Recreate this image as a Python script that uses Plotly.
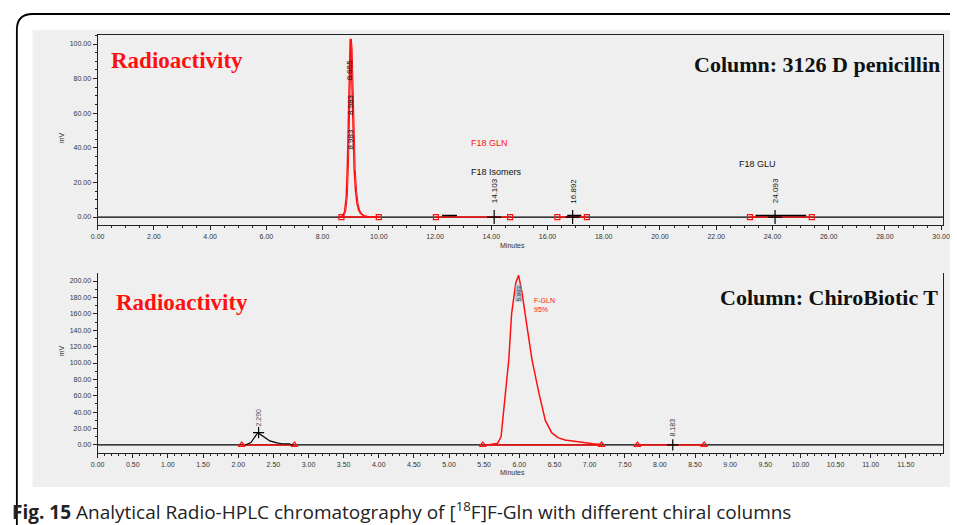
import plotly.graph_objects as go

W, H = 957, 525

# ---------------- data: top panel (Column: 3126 D penicillin) ----------------
top_peak_t = [8.60, 8.70, 8.78, 8.84, 8.88, 8.92, 8.95, 8.98, 9.01, 9.04, 9.08, 9.12, 9.17, 9.22, 9.28, 9.35, 9.45, 9.60, 10.0]
top_peak_mv = [0, 0.5, 3, 12, 30, 60, 90, 103, 98, 75, 48, 28, 15, 8, 4, 2, 0.8, 0.2, 0]
top_range = [0, 30.07]
top_baseline_t = [0, 30.07]
top_baseline_mv = [0, 0]
top_red_segments = [[8.67, 10.0], [12.03, 14.67], [16.35, 17.4], [23.2, 25.4]]
top_black_bars = [[12.25, 12.78], [16.7, 17.2], [23.4, 25.2]]
top_peak_rt = [14.103, 16.892, 24.093]
top_peak_labels = ["14.103", "16.892", "24.093"]
top_main_labels = ["8.955", "8.983", "8.983"]
top_xticks = [0, 2, 4, 6, 8, 10, 12, 14, 16, 18, 20, 22, 24, 26, 28, 30]
top_yticks = [0, 20, 40, 60, 80, 100]

# ---------------- data: bottom panel (Column: ChiroBiotic T) ----------------
bot_small_t = [2.10, 2.18, 2.28, 2.35, 2.45, 2.55, 2.62, 2.72, 2.78]
bot_small_mv = [0, 3, 15, 11, 5, 2.5, 1.5, 1.5, 0]
bot_main_t = [5.55, 5.65, 5.69, 5.74, 5.78, 5.85, 5.89, 5.95, 5.99, 6.04, 6.11, 6.18, 6.28, 6.37, 6.46, 6.55, 6.65, 6.80, 6.93, 7.05, 7.17]
bot_main_mv = [0, 1, 2, 10, 46, 104, 160, 198, 207, 185, 144, 104, 63, 30, 15, 9, 6, 4, 3, 1.5, 0.5]
bot_range = [0, 12.03]
bot_baseline_t = [0, 12.03]
bot_baseline_mv = [0, 0]
bot_red_segments = [[2.05, 2.80], [5.48, 7.17], [7.68, 8.63]]
bot_peak_rt = [2.29, 5.993, 8.183]
bot_peak_labels = ["2.290", "5.993", "8.183"]
bot_xticks = [i * 0.5 for i in range(24)]
bot_yticks = [0, 20, 40, 60, 80, 100, 120, 140, 160, 180, 200]


def px(x):
    return x / W


def py(y):
    return 1 - y / H


RED = "#ff1010"
fig = go.Figure()

# ---- top traces
fig.add_trace(go.Scatter(x=top_baseline_t, y=top_baseline_mv, mode="lines",
                         line=dict(color="black", width=1.3), xaxis="x", yaxis="y", hoverinfo="skip"))
for s in top_red_segments:
    fig.add_trace(go.Scatter(x=s, y=[0, 0], mode="lines+markers",
                             line=dict(color=RED, width=1.6),
                             marker=dict(symbol="square-open", size=5, color=RED, line=dict(width=1.2)),
                             xaxis="x", yaxis="y", hoverinfo="skip"))
for b in top_black_bars:
    fig.add_trace(go.Scatter(x=b, y=[0.9, 0.9], mode="lines", line=dict(color="black", width=1.4),
                             xaxis="x", yaxis="y", hoverinfo="skip"))
fig.add_trace(go.Scatter(x=top_peak_t, y=top_peak_mv, mode="lines",
                         line=dict(color=RED, width=1.4), xaxis="x", yaxis="y", hoverinfo="skip"))
fig.add_trace(go.Scatter(x=[t + 0.04 for t in top_peak_t], y=top_peak_mv, mode="lines",
                         line=dict(color=RED, width=1.0), xaxis="x", yaxis="y", hoverinfo="skip"))
fig.add_trace(go.Scatter(x=top_peak_rt, y=[0, 0, 0], mode="markers",
                         marker=dict(symbol="cross-thin-open", size=10, color="black", line=dict(width=1.2, color="black")),
                         xaxis="x", yaxis="y", hoverinfo="skip"))

# ---- bottom traces
fig.add_trace(go.Scatter(x=bot_baseline_t, y=bot_baseline_mv, mode="lines",
                         line=dict(color="black", width=1.3), xaxis="x2", yaxis="y2", hoverinfo="skip"))
for s in bot_red_segments:
    fig.add_trace(go.Scatter(x=s, y=[0, 0], mode="lines+markers",
                             line=dict(color=RED, width=1.6),
                             marker=dict(symbol="triangle-up-open", size=6, color=RED, line=dict(width=1.2)),
                             xaxis="x2", yaxis="y2", hoverinfo="skip"))
fig.add_trace(go.Scatter(x=bot_small_t, y=bot_small_mv, mode="lines",
                         line=dict(color="black", width=1.2), xaxis="x2", yaxis="y2", hoverinfo="skip"))
fig.add_trace(go.Scatter(x=bot_main_t, y=bot_main_mv, mode="lines",
                         line=dict(color=RED, width=1.5), xaxis="x2", yaxis="y2", hoverinfo="skip"))
fig.add_trace(go.Scatter(x=[bot_peak_rt[0], bot_peak_rt[2]], y=[15, 0], mode="markers",
                         marker=dict(symbol="cross-thin-open", size=8, color="black", line=dict(width=1.2, color="black")),
                         xaxis="x2", yaxis="y2", hoverinfo="skip"))

tickfont = dict(family="Liberation Sans", size=7, color="#333333")
axis_common = dict(showline=True, linecolor="#222222", linewidth=1.3, ticks="outside", ticklen=4,
                   tickcolor="#222222", tickfont=tickfont, showgrid=False, zeroline=False,
                   tickformat=".2f")

fig.update_layout(
    width=W, height=H, margin=dict(l=0, r=0, t=0, b=0),
    paper_bgcolor="white", plot_bgcolor="rgba(0,0,0,0)", showlegend=False,
    xaxis=dict(domain=[px(92), px(950)], range=top_range, anchor="y", tickvals=top_xticks,
               minor=dict(dtick=0.5, ticklen=2, ticks="outside", tickcolor="#222222"), mirror=True, **axis_common),
    yaxis=dict(domain=[py(225), py(35)], range=[-4.6, 105.2], anchor="x", tickvals=top_yticks,
               minor=dict(dtick=5, ticklen=2, ticks="outside", tickcolor="#222222"), mirror=True, **axis_common),
    xaxis2=dict(domain=[px(92), px(950)], range=bot_range, anchor="y2", tickvals=bot_xticks,
                minor=dict(dtick=0.1, ticklen=2, ticks="outside", tickcolor="#222222"), mirror=False, **axis_common),
    yaxis2=dict(domain=[py(453), py(273)], range=[-9.8, 209.8], anchor="x2", tickvals=bot_yticks,
                minor=dict(dtick=10, ticklen=2, ticks="outside", tickcolor="#222222"), mirror=True, **axis_common),
)

shapes = [
    # gray panel
    dict(type="rect", xref="paper", yref="paper", x0=px(26), x1=1.0, y0=py(487), y1=py(30),
         fillcolor="#efefef", line=dict(width=0), layer="below"),
    # outer rounded frame
    dict(type="path", xref="paper", yref="paper",
         path=f"M {px(10)},{py(525)} L {px(10)},{py(30)} Q {px(10)},{py(14)} {px(26)},{py(14)} L {px(957)},{py(14)}",
         line=dict(color="black", width=1.8)),
]
fig.update_layout(shapes=shapes)

ann = []
serif_red = dict(family="Liberation Serif", size=23, color=RED)
serif_blk = dict(family="Liberation Serif", size=22, color="#111111")
ann.append(dict(xref="paper", yref="paper", x=px(104), y=py(60), text="<b>Radioactivity</b>",
                showarrow=False, xanchor="left", yanchor="middle", font=serif_red))
ann.append(dict(xref="paper", yref="paper", x=px(949), y=py(64), text="<b>Column: 3126 D penicillin</b>",
                showarrow=False, xanchor="right", yanchor="middle", font=serif_blk))
ann.append(dict(xref="paper", yref="paper", x=px(109), y=py(302), text="<b>Radioactivity</b>",
                showarrow=False, xanchor="left", yanchor="middle", font=serif_red))
ann.append(dict(xref="paper", yref="paper", x=px(947), y=py(297), text="<b>Column: ChiroBiotic T</b>",
                showarrow=False, xanchor="right", yanchor="middle", font=serif_blk))

small = dict(family="Liberation Sans", size=8, color="#111111")
ann.append(dict(xref="paper", yref="paper", x=px(490), y=py(136), text="F18 GLN", showarrow=False,
                font=dict(family="Liberation Sans", size=9, color=RED)))
ann.append(dict(xref="paper", yref="paper", x=px(497), y=py(165), text="F18 Isomers", showarrow=False,
                font=dict(family="Liberation Sans", size=9, color="#111111")))
ann.append(dict(xref="paper", yref="paper", x=px(782), y=py(157), text="F18 GLU", showarrow=False,
                font=dict(family="Liberation Sans", size=9, color="#111111")))
ann.append(dict(xref="paper", yref="paper", x=px(533), y=py(305), text="F-GLN<br>95%", showarrow=False,
                xanchor="left", align="left", font=dict(family="Liberation Sans", size=7, color=RED)))

# rotated retention time labels
for t, lab in zip(top_peak_rt, top_peak_labels):
    ann.append(dict(xref="x", yref="y", x=t, y=15, text=lab, textangle=-90, showarrow=False,
                    yanchor="middle", font=small))
for i, lab in enumerate(top_main_labels):
    ann.append(dict(xref="x", yref="y", x=8.99, y=[85, 65, 45][i], text=lab, textangle=-90, showarrow=False,
                    font=dict(family="Liberation Sans", size=8, color="#111111")))
ann.append(dict(xref="x2", yref="y2", x=bot_peak_rt[0], y=33, text=bot_peak_labels[0], textangle=-90,
                showarrow=False, font=dict(family="Liberation Sans", size=7, color="#555555")))
ann.append(dict(xref="x2", yref="y2", x=bot_peak_rt[1], y=185, text=bot_peak_labels[1], textangle=-90,
                showarrow=False, font=dict(family="Liberation Sans", size=6, color="#333333"),
                bgcolor="rgba(120,170,210,0.6)", borderpad=0))
ann.append(dict(xref="x2", yref="y2", x=bot_peak_rt[2], y=21, text=bot_peak_labels[2], textangle=-90,
                showarrow=False, font=dict(family="Liberation Sans", size=7, color="#333333")))

# axis titles
ann.append(dict(xref="paper", yref="paper", x=px(50), y=py(130), text="mV", textangle=-90, showarrow=False,
                font=dict(family="Liberation Sans", size=7, color="#333333")))
ann.append(dict(xref="paper", yref="paper", x=px(513), y=py(245), text="Minutes", showarrow=False,
                font=dict(family="Liberation Sans", size=7, color="#333333")))
ann.append(dict(xref="paper", yref="paper", x=px(50), y=py(358), text="mV", textangle=-90, showarrow=False,
                font=dict(family="Liberation Sans", size=7, color="#333333")))
ann.append(dict(xref="paper", yref="paper", x=px(513), y=py(478), text="Minutes", showarrow=False,
                font=dict(family="Liberation Sans", size=7, color="#333333")))

# caption
ann.append(dict(xref="paper", yref="paper", x=px(3), y=py(511),
                text="<b>Fig. 15</b> Analytical Radio-HPLC chromatography of [<sup>18</sup>F]F-Gln with different chiral columns",
                showarrow=False, xanchor="left", yanchor="middle",
                font=dict(family="Open Sans", size=19, color="#222222")))

fig.update_layout(annotations=ann)
fig.write_html("out.html", config={"displayModeBar": False},
               post_script="document.body.style.margin='0';document.body.style.overflow='hidden';")
